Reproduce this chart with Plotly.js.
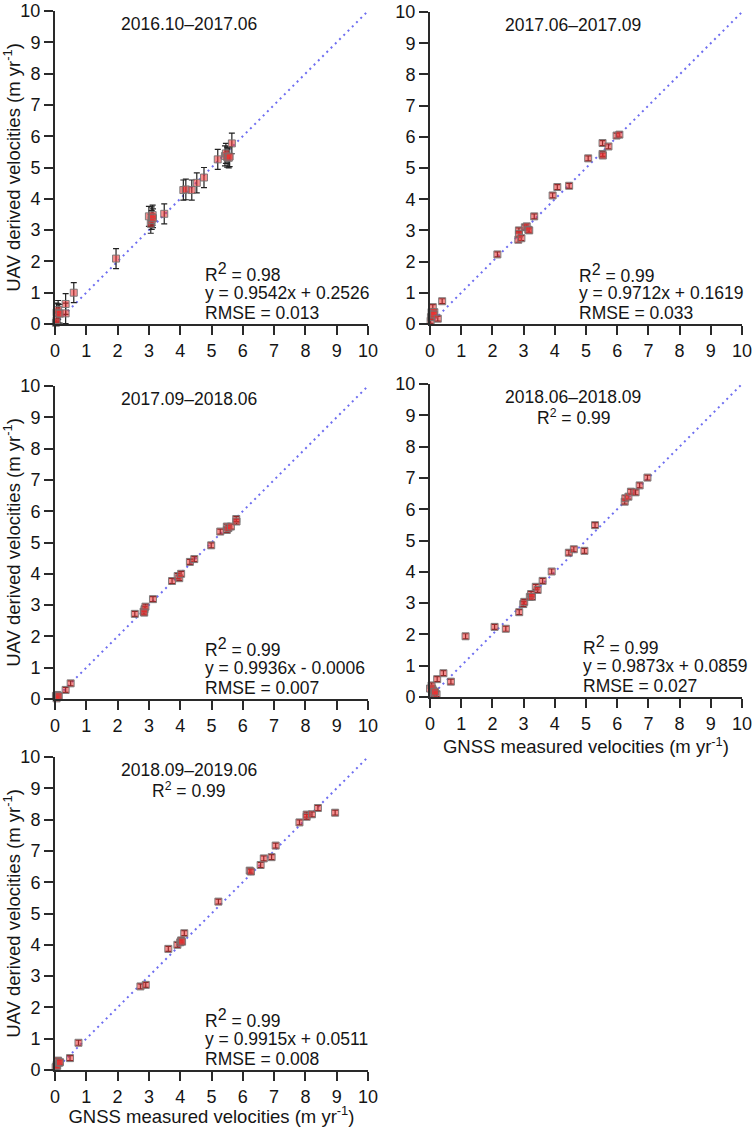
<!DOCTYPE html>
<html>
<head>
<meta charset="utf-8">
<script src="https://cdn.plot.ly/plotly-3.0.1.min.js"></script>
<style>
  html, body { margin: 0; padding: 0; background: #fff; }
  #plot { width: 754px; height: 1127px; }
</style>
</head>
<body>
<div id="plot"></div>
<script>
// period labels
const periods = ["2016.10–2017.06", "2017.06–2017.09", "2017.09–2018.06", "2018.06–2018.09", "2018.09–2019.06"];
const r2Text = ["0.98", "0.99", "0.99", "0.99", "0.99"];
const fitText = ["y = 0.9542x + 0.2526", "y = 0.9712x + 0.1619", "y = 0.9936x - 0.0006", "y = 0.9873x + 0.0859", "y = 0.9915x + 0.0511"];
const rmseText = ["0.013", "0.033", "0.007", "0.027", "0.008"];

// 1:1 reference line
const oneToOne = [0, 10];

// GNSS (x) vs UAV (y) velocities, m/yr
const gnss1 = [0.03, 0.05, 0.05, 0.1, 0.1, 0.15, 0.34, 0.34, 0.6, 1.95, 3.0, 3.06, 3.09, 3.09, 3.12, 3.13, 3.49, 4.1, 4.18, 4.37, 4.53, 4.76, 5.2, 5.43, 5.46, 5.5, 5.55, 5.58, 5.65];
const uav1 = [0.04, 0.13, 0.37, 0.45, 0.34, 0.33, 0.34, 0.64, 1.0, 2.09, 3.44, 3.2, 3.32, 3.42, 3.48, 3.38, 3.52, 4.28, 4.3, 4.28, 4.51, 4.68, 5.26, 5.37, 5.45, 5.33, 5.31, 5.35, 5.77];
const err1 = [0.12, 0.25, 0.3, 0.3, 0.3, 0.3, 0.33, 0.33, 0.32, 0.32, 0.32, 0.3, 0.3, 0.32, 0.32, 0.3, 0.32, 0.32, 0.33, 0.32, 0.32, 0.32, 0.32, 0.32, 0.32, 0.32, 0.32, 0.32, 0.33];

const gnss2 = [0.02, 0.03, 0.05, 0.1, 0.09, 0.14, 0.12, 0.25, 0.39, 2.16, 2.83, 2.85, 2.85, 2.93, 3.04, 3.1, 3.15, 3.18, 3.34, 3.93, 4.08, 4.46, 5.07, 5.53, 5.53, 5.54, 5.72, 5.98, 6.07];
const uav2 = [0.1, 0.22, 0.38, 0.33, 0.54, 0.38, 0.3, 0.17, 0.73, 2.23, 2.7, 3.0, 2.89, 2.75, 3.1, 3.13, 3.02, 3.0, 3.45, 4.12, 4.39, 4.43, 5.31, 5.8, 5.45, 5.4, 5.69, 6.04, 6.07];
const err2 = [0.08, 0.08, 0.08, 0.08, 0.08, 0.08, 0.08, 0.08, 0.08, 0.08, 0.08, 0.08, 0.08, 0.08, 0.08, 0.08, 0.08, 0.08, 0.08, 0.08, 0.08, 0.08, 0.08, 0.08, 0.08, 0.08, 0.08, 0.08, 0.08];

const gnss3 = [0.03, 0.07, 0.1, 0.05, 0.12, 0.34, 0.5, 2.55, 2.83, 2.86, 2.89, 2.85, 3.13, 3.74, 3.92, 3.97, 4.03, 4.31, 4.45, 4.99, 5.28, 5.49, 5.49, 5.54, 5.62, 5.79, 5.8];
const uav3 = [0.1, 0.13, 0.07, 0.02, 0.1, 0.29, 0.5, 2.72, 2.79, 2.87, 2.95, 2.76, 3.19, 3.77, 3.93, 3.86, 4.0, 4.38, 4.47, 4.91, 5.35, 5.51, 5.4, 5.46, 5.51, 5.75, 5.67];
const err3 = [0.08, 0.08, 0.08, 0.08, 0.08, 0.08, 0.08, 0.08, 0.08, 0.08, 0.08, 0.08, 0.08, 0.08, 0.08, 0.08, 0.08, 0.08, 0.08, 0.08, 0.08, 0.08, 0.08, 0.08, 0.08, 0.08, 0.08];

const gnss4 = [0.0, 0.07, 0.1, 0.05, 0.13, 0.21, 0.16, 0.23, 0.43, 0.67, 1.14, 2.07, 2.43, 2.86, 2.99, 3.02, 3.2, 3.24, 3.27, 3.39, 3.45, 3.61, 3.9, 4.45, 4.61, 4.95, 5.29, 6.24, 6.26, 6.36, 6.44, 6.59, 6.72, 6.97];
const uav4 = [0.27, 0.27, 0.21, 0.37, 0.11, 0.09, 0.17, 0.57, 0.76, 0.49, 1.94, 2.24, 2.18, 2.71, 2.97, 3.04, 3.2, 3.29, 3.2, 3.52, 3.42, 3.71, 4.01, 4.61, 4.72, 4.67, 5.49, 6.24, 6.35, 6.4, 6.56, 6.54, 6.76, 7.01];
const err4 = [0.08, 0.08, 0.08, 0.08, 0.08, 0.08, 0.08, 0.08, 0.08, 0.08, 0.08, 0.08, 0.08, 0.08, 0.08, 0.08, 0.08, 0.08, 0.08, 0.08, 0.08, 0.08, 0.08, 0.08, 0.08, 0.08, 0.08, 0.08, 0.08, 0.08, 0.08, 0.08, 0.08, 0.08];

const gnss5 = [0.02, 0.05, 0.07, 0.1, 0.13, 0.16, 0.48, 0.75, 2.73, 2.9, 3.62, 3.91, 4.0, 4.03, 4.06, 4.13, 5.22, 6.22, 6.26, 6.57, 6.67, 6.92, 7.05, 7.81, 8.04, 8.04, 8.21, 8.4, 8.95];
const uav5 = [0.09, 0.16, 0.13, 0.3, 0.23, 0.25, 0.38, 0.87, 2.67, 2.72, 3.87, 4.0, 4.08, 4.14, 4.1, 4.37, 5.38, 6.37, 6.34, 6.55, 6.76, 6.8, 7.17, 7.91, 8.16, 8.09, 8.17, 8.37, 8.22];
const err5 = [0.08, 0.08, 0.08, 0.08, 0.08, 0.08, 0.08, 0.08, 0.08, 0.08, 0.08, 0.08, 0.08, 0.08, 0.08, 0.08, 0.08, 0.08, 0.08, 0.08, 0.08, 0.08, 0.08, 0.08, 0.08, 0.08, 0.08, 0.08, 0.08];

const tickVals = [0, 1, 2, 3, 4, 5, 6, 7, 8, 9, 10];

const panels = [
    { x: gnss1, y: uav1, e: err1 },
    { x: gnss2, y: uav2, e: err2 },
    { x: gnss3, y: uav3, e: err3 },
    { x: gnss4, y: uav4, e: err4 },
    { x: gnss5, y: uav5, e: err5 }
];

// pixel boxes of each plot area [left, right, top, bottom]
const W = 754, H = 1127;
const boxes = [
    [55, 368, 11, 324],
    [430, 742, 12, 324],
    [55, 368, 386, 699],
    [430, 742, 384, 697],
    [55, 368, 757, 1070]
];

const FONT = "Liberation Sans, Arial, sans-serif";
const AXCOL = "#2a2a2a";
const TXT = "#151515";

const traces = [];
const layout = {
    width: W,
    height: H,
    margin: { l: 0, r: 0, t: 0, b: 0 },
    paper_bgcolor: "#fff",
    plot_bgcolor: "#fff",
    showlegend: false,
    font: { family: FONT, size: 18, color: TXT },
    annotations: []
};

panels.forEach((p, i) => {
    const n = i === 0 ? "" : String(i + 1);
    const xa = "x" + n, ya = "y" + n;
    const b = boxes[i];

    // 1:1 line
    traces.push({
        x: oneToOne,
        y: oneToOne,
        xaxis: xa,
        yaxis: ya,
        mode: "lines",
        line: { color: "rgb(110,110,240)", width: 2, dash: "2px,4px" },
        hoverinfo: "skip"
    });

    traces.push({
        x: p.x,
        y: p.y,
        xaxis: xa,
        yaxis: ya,
        mode: "markers",
        type: "scatter",
        cliponaxis: false,
        marker: {
            symbol: "square",
            size: 7,
            color: "rgba(240,50,50,0.55)",
            line: { color: "rgba(115,115,115,0.9)", width: 1 }
        },
        error_y: {
            type: "data",
            array: p.e,
            visible: true,
            color: "#222",
            thickness: 1.2,
            width: 3
        }
    });

    const axBase = {
        range: [0, 10],
        autorange: false,
        tickvals: tickVals,
        ticks: "outside",
        ticklen: 9,
        tickwidth: 2,
        tickcolor: AXCOL,
        showline: true,
        linecolor: AXCOL,
        linewidth: 2,
        showgrid: false,
        zeroline: false,
        tickfont: { family: FONT, size: 18, color: TXT },
        fixedrange: true
    };

    layout["xaxis" + n] = Object.assign({}, axBase, {
        domain: [b[0] / W, b[1] / W],
        anchor: ya
    });
    layout["yaxis" + n] = Object.assign({}, axBase, {
        domain: [(H - b[3]) / H, (H - b[2]) / H],
        anchor: xa
    });

    if (i === 0 || i === 2 || i === 4) {
        layout["yaxis" + n].title = {
            text: "UAV derived velocities (m yr<sup>-1</sup>)",
            font: { family: FONT, size: 18.5, color: TXT },
            standoff: 8
        };
    }
    if (i === 3 || i === 4) {
        layout["xaxis" + n].title = {
            text: "GNSS measured velocities (m yr<sup>-1</sup>)",
            font: { family: FONT, size: 18.5, color: TXT },
            standoff: 6
        };
    }

    const left = i % 2 === 0 ? 0.428 : 0.459;
    const ann = (text, xx, yy, xanchor) => ({
        text: text,
        xref: xa + " domain",
        yref: ya + " domain",
        x: xx,
        y: yy,
        xanchor: xanchor,
        yanchor: "middle",
        showarrow: false,
        font: { family: FONT, size: 17.5, color: TXT }
    });

    layout.annotations.push(ann(periods[i], left, 0.958, "center"));
    if (i >= 3) {
        layout.annotations.push(ann("R<sup>2</sup> = " + r2Text[i], left, 0.895, "center"));
    }
    const sx = i === 3 ? 0.485 : (i === 1 ? 0.47 : 0.473);
    layout.annotations.push(ann("R<sup><span style='font-size:16px'>2</span></sup> = " + r2Text[i], sx, 0.163, "left"));
    layout.annotations.push(ann(fitText[i], sx, 0.099, "left"));
    layout.annotations.push(ann("RMSE = " + rmseText[i], sx, 0.035, "left"));
});

Plotly.newPlot("plot", traces, layout, { staticPlot: true });
</script>
</body>
</html>
